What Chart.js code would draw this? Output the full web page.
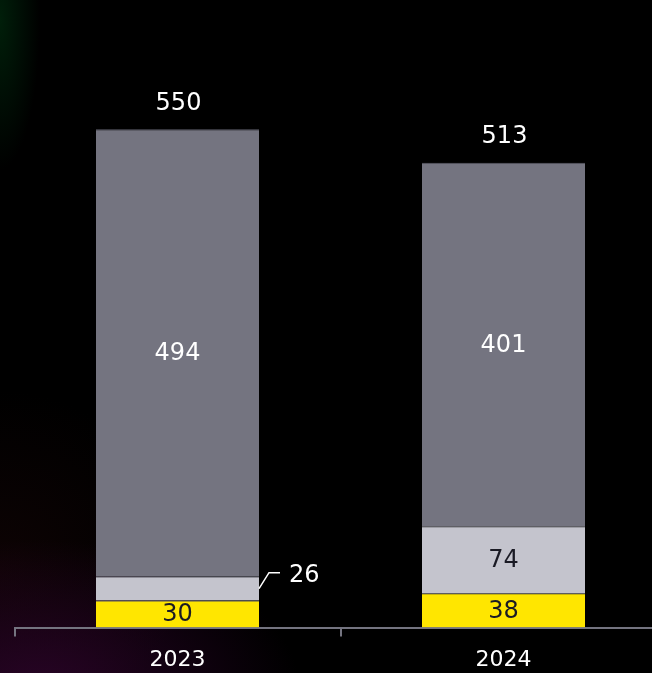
<!DOCTYPE html>
<html>
<head>
<meta charset="utf-8">
<title>Stacked totals 2023–2024</title>
<script src="https://cdn.jsdelivr.net/npm/chart.js@4.4.1/dist/chart.umd.min.js"></script>
<style>
  html, body {
    margin: 0;
    padding: 0;
    width: 652px;
    height: 673px;
    overflow: hidden;
    background-color: #000;
    background-image:
      radial-gradient(ellipse 40px 150px at 0px 20px, rgba(0, 38, 12, 0.8), rgba(0, 0, 0, 0) 100%),
      radial-gradient(ellipse 260px 150px at 40px 690px, rgba(44, 4, 42, 0.9), rgba(0, 0, 0, 0) 100%),
      radial-gradient(ellipse 180px 180px at 0px 570px, rgba(22, 5, 6, 0.6), rgba(0, 0, 0, 0) 100%);
  }
  #wrap { position: absolute; left: 0; top: 0; width: 680px; height: 684px; }
</style>
</head>
<body>
<div id="wrap"><canvas id="chart" width="680" height="684"></canvas></div>
<script>
// Categories and stacked segment values
const years = ['2023', '2024'];
const yellowSegment = [30, 38];
const lightSegment = [26, 74];
const darkSegment = [494, 401];
const totals = [550, 513];

const FONT = '"DejaVu Sans", Verdana, sans-serif';

// Writes each segment's value, a callout for thin segments, and the total above each bar
const valueLabels = {
  id: 'valueLabels',
  afterDatasetsDraw(chart) {
    const ctx = chart.ctx;
    const yScale = chart.scales.y;
    ctx.save();
    ctx.font = '24px ' + FONT;
    ctx.textBaseline = 'middle';
    chart.data.datasets.forEach((ds, di) => {
      const meta = chart.getDatasetMeta(di);
      meta.data.forEach((bar, i) => {
        const v = ds.data[i];
        const top = Math.min(bar.y, bar.base);
        const bottom = Math.max(bar.y, bar.base);
        const cy = (top + bottom) / 2;
        if (bottom - top < 25) {
          const right = bar.x + bar.width / 2;
          ctx.strokeStyle = '#ffffff';
          ctx.lineWidth = 1.5;
          ctx.beginPath();
          ctx.moveTo(right, cy);
          ctx.lineTo(right + 10, cy - 16);
          ctx.lineTo(right + 21, cy - 16);
          ctx.stroke();
          ctx.fillStyle = '#ffffff';
          ctx.textAlign = 'left';
          ctx.fillText(String(v), right + 30, cy - 13);
        } else {
          ctx.fillStyle = ds.labelColor;
          ctx.textAlign = 'center';
          ctx.fillText(String(v), bar.x, cy + 1);
        }
      });
    });
    const first = chart.getDatasetMeta(0);
    ctx.fillStyle = '#ffffff';
    ctx.textAlign = 'center';
    totals.forEach((t, i) => {
      const x = first.data[i].x + 1;
      const y = yScale.getPixelForValue(t) - 26;
      ctx.fillText(String(t), x, y);
    });
    ctx.restore();
  }
};

new Chart(document.getElementById('chart'), {
  type: 'bar',
  data: {
    labels: years,
    datasets: [
      {
        label: 'Segment A',
        data: yellowSegment,
        backgroundColor: '#FFE600',
        borderColor: '#9c9ca4',
        borderWidth: { top: 1, left: 0, right: 0, bottom: 0 },
        borderSkipped: false,
        labelColor: '#1a1a24'
      },
      {
        label: 'Segment B',
        data: lightSegment,
        backgroundColor: '#C4C4CD',
        borderColor: '#a4a4ae',
        borderWidth: { top: 1, left: 0, right: 0, bottom: 0 },
        borderSkipped: false,
        labelColor: '#1a1a24'
      },
      {
        label: 'Segment C',
        data: darkSegment,
        backgroundColor: '#747480',
        borderColor: '#5e5e6a',
        borderWidth: { top: 1, left: 0, right: 0, bottom: 0 },
        borderSkipped: false,
        labelColor: '#ffffff'
      }
    ]
  },
  options: {
    responsive: false,
    animation: false,
    devicePixelRatio: 1,
    layout: { padding: { top: 84, left: 14.5, right: 13.5, bottom: 0 } },
    datasets: {
      bar: { barPercentage: 1, categoryPercentage: 0.5 }
    },
    plugins: {
      legend: { display: false },
      tooltip: { enabled: false }
    },
    scales: {
      x: {
        stacked: true,
        grid: {
          offset: true,
          drawOnChartArea: false,
          drawTicks: true,
          tickLength: 9,
          color: '#747480',
          lineWidth: 2
        },
        border: { display: true, color: '#747480', width: 2 },
        ticks: {
          color: '#ffffff',
          padding: 10.5,
          font: { family: FONT, size: 22 }
        }
      },
      y: {
        stacked: true,
        display: false,
        min: 0,
        max: 600
      }
    }
  },
  plugins: [valueLabels]
});
</script>
</body>
</html>
